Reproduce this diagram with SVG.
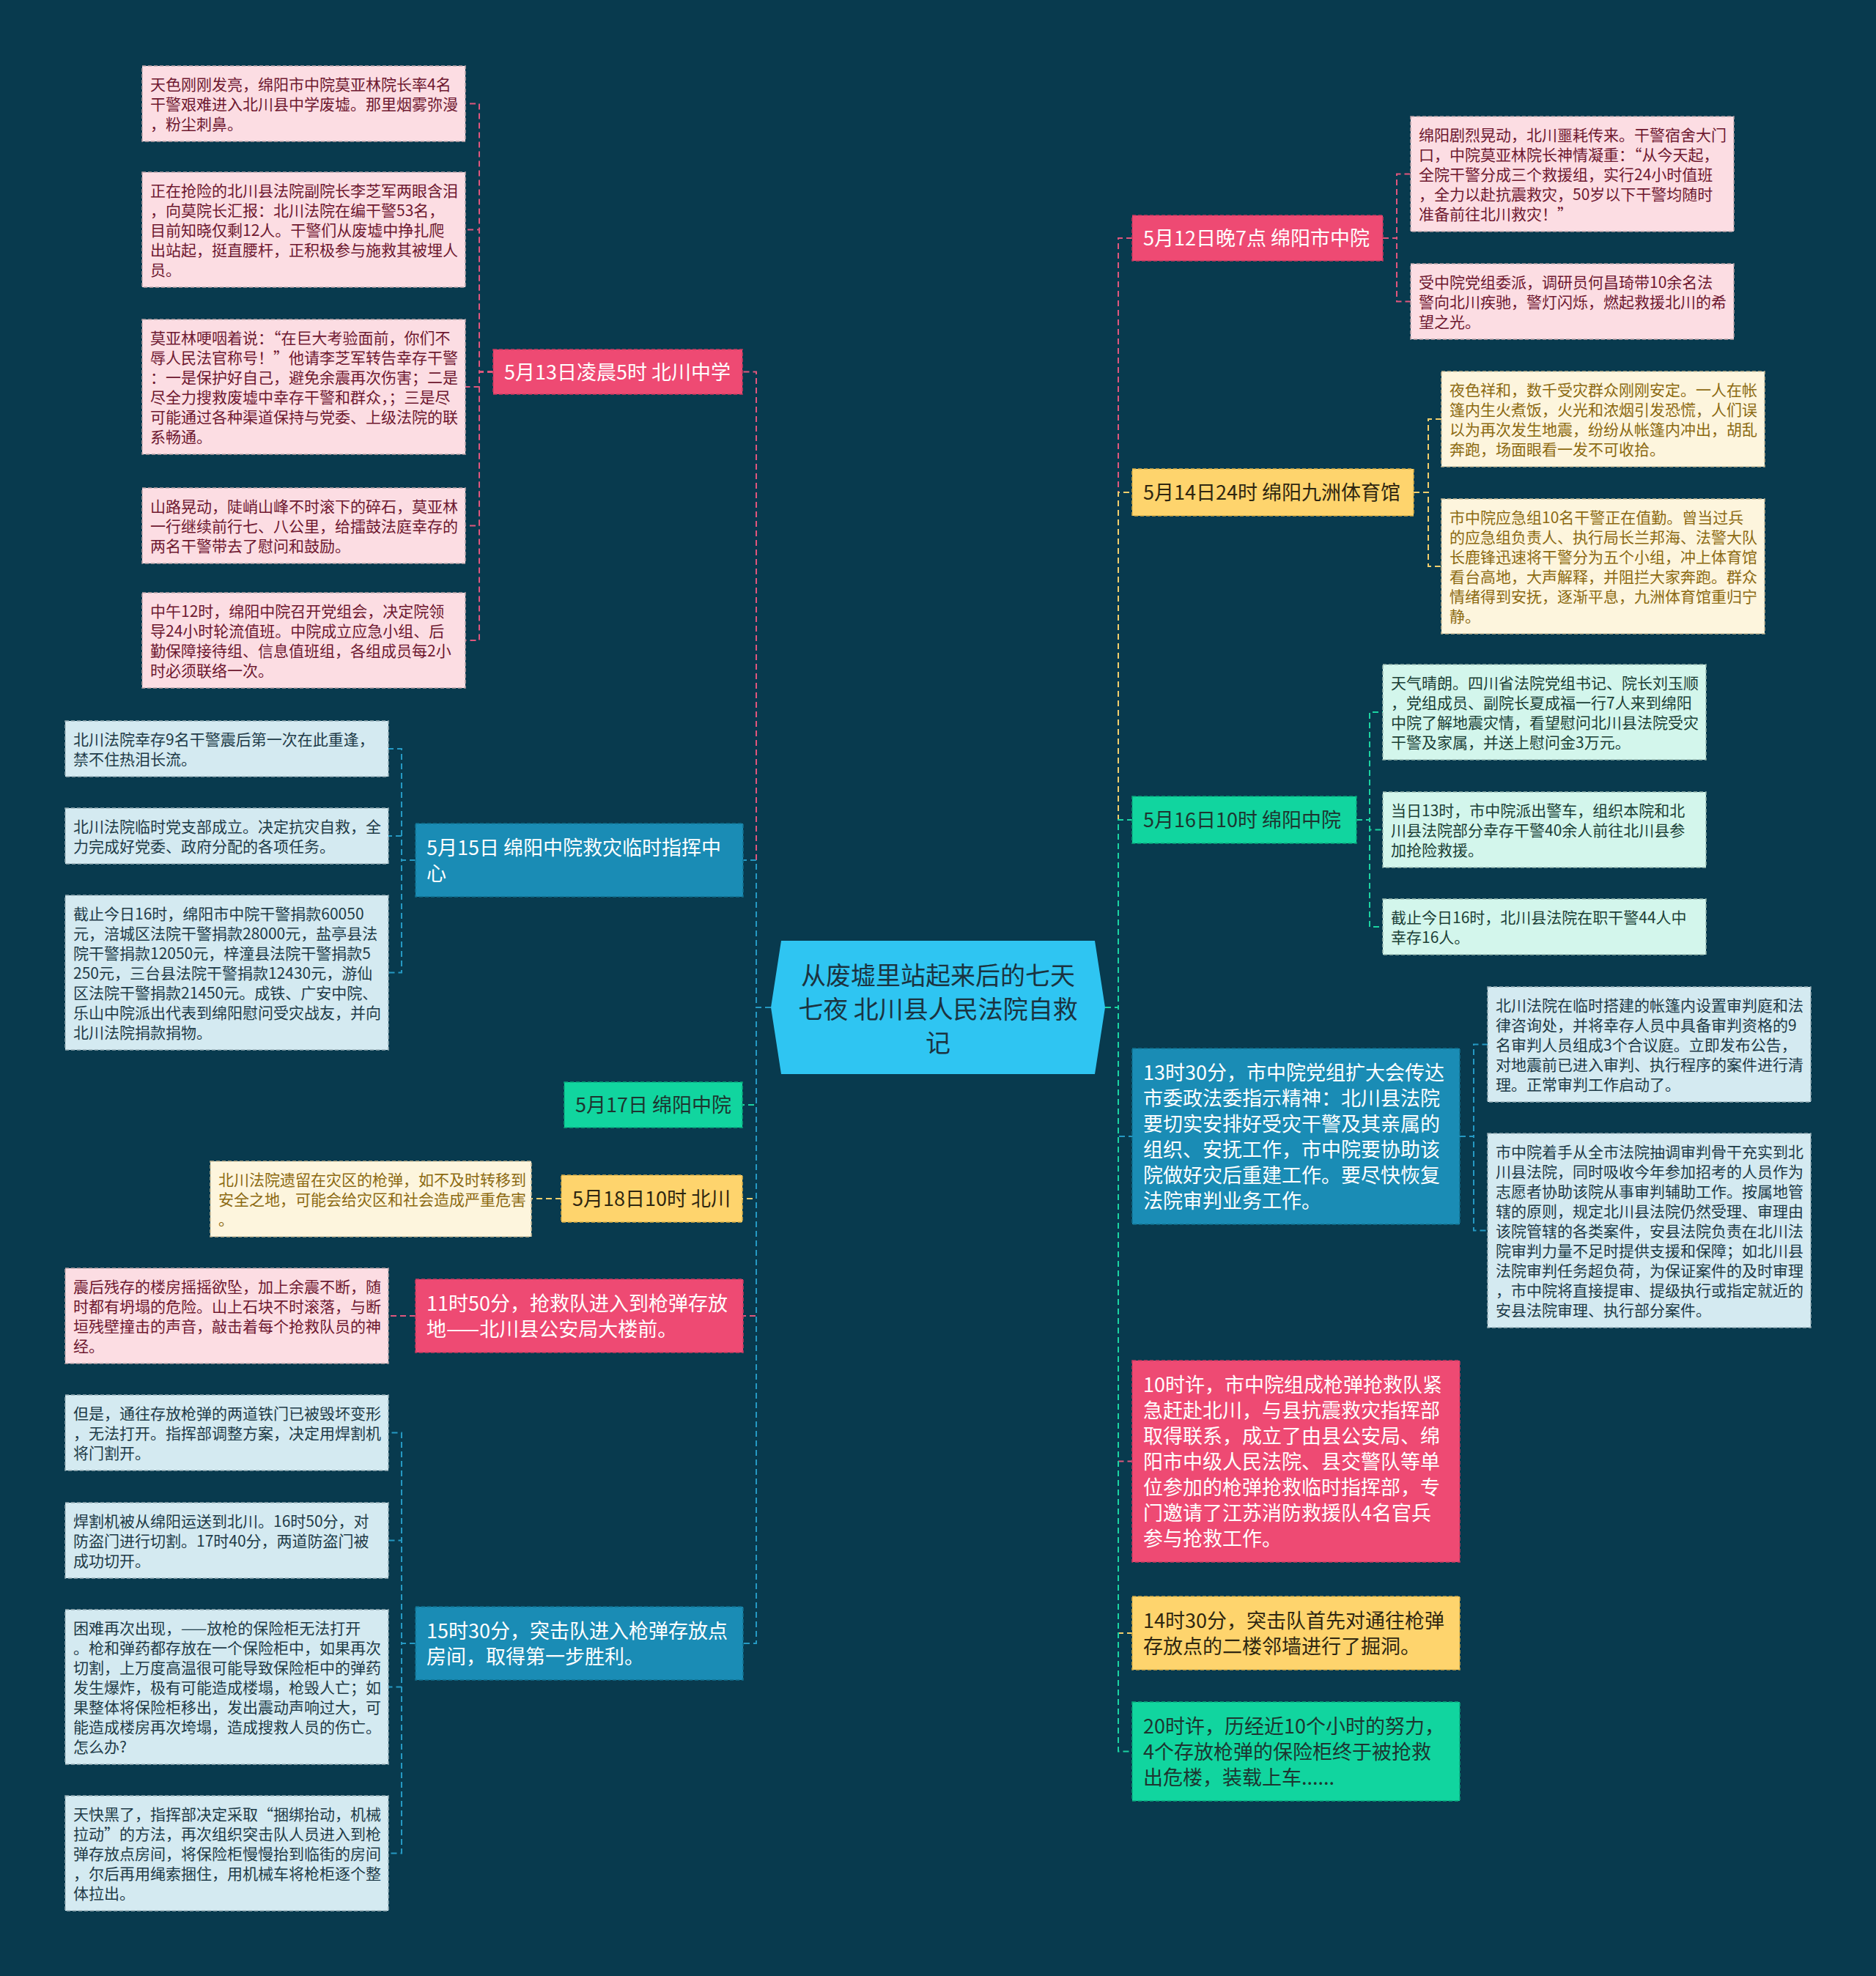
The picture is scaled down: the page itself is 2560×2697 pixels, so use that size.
<svg xmlns="http://www.w3.org/2000/svg" width="2560" height="2697" viewBox="0 0 2560 2697">
<style>
text{font-family:"Noto Sans CJK SC","Noto Sans",sans-serif}
.lf{font-size:21px}
.br{font-size:27px}
.ct{font-size:34px;fill:#1b3340;text-anchor:middle}
.box{stroke-width:1.5;stroke-dasharray:5 3}
.bp{fill:#ee4a73;stroke:#c93a60}
.bb{fill:#1a8cb5;stroke:#10708f}
.bg{fill:#11d59f;stroke:#0aa87c}
.by{fill:#fed46d;stroke:#d8ad45}
.lp{fill:#fcdde3;stroke:#b9a2a8}
.lb{fill:#d4eaf1;stroke:#98afb6}
.ly{fill:#fdf5dd;stroke:#c8bb96}
.lg{fill:#d3f6ec;stroke:#98b8ae}
.tw{fill:#ffffff}
.td{fill:#1d3530}
.tyd{fill:#2e2610}
.tp{fill:#6e1830}
.tb{fill:#1e3b48}
.ty{fill:#8c6a12}
.tg{fill:#1b3f36}
.c{fill:none;stroke-width:2;stroke-dasharray:8 5}
.cp{stroke:#e0567d}
.cb{stroke:#2599c3}
.cg{stroke:#1bd4a2}
.cy{stroke:#f3cf6c}
</style>
<rect width="2560" height="2697" fill="#083a4e"/>

<g id="connectors">
  <path class="c cp" d="M1052 1375H1032V507.5H1013"/>
  <path class="c cb" d="M1052 1375H1032V1174H1014"/>
  <path class="c cg" d="M1052 1375H1032V1508H1013"/>
  <path class="c cy" d="M1052 1375H1032V1636H1013"/>
  <path class="c cp" d="M1052 1375H1032V1796H1014"/>
  <path class="c cb" d="M1052 1375H1032V2243H1014"/>
  <path class="c cp" d="M1508 1375H1526V325H1545"/>
  <path class="c cy" d="M1508 1375H1526V672H1545"/>
  <path class="c cg" d="M1508 1375H1526V1119H1545"/>
  <path class="c cb" d="M1508 1375H1526V1551H1545"/>
  <path class="c cp" d="M1508 1375H1526V1994.5H1545"/>
  <path class="c cy" d="M1508 1375H1526V2229H1545"/>
  <path class="c cg" d="M1508 1375H1526V2390.5H1545"/>
  <path class="c cp" d="M673 507.5H654V141.5H635"/>
  <path class="c cp" d="M673 507.5H654V313.5H635"/>
  <path class="c cp" d="M673 507.5H654V528H635"/>
  <path class="c cp" d="M673 507.5H654V717.5H635"/>
  <path class="c cp" d="M673 507.5H654V874H635"/>
  <path class="c cb" d="M567 1174H548V1022H530"/>
  <path class="c cb" d="M567 1174H548V1141H530"/>
  <path class="c cb" d="M567 1174H548V1327.5H530"/>
  <path class="c cy" d="M766 1636H725"/>
  <path class="c cp" d="M567 1796H530"/>
  <path class="c cb" d="M567 2243H548V1955.5H530"/>
  <path class="c cb" d="M567 2243H548V2102.5H530"/>
  <path class="c cb" d="M567 2243H548V2302.5H530"/>
  <path class="c cb" d="M567 2243H548V2529.5H530"/>
  <path class="c cp" d="M1887 325H1906V237.5H1925"/>
  <path class="c cp" d="M1887 325H1906V411.5H1925"/>
  <path class="c cy" d="M1929 672H1949V572H1967"/>
  <path class="c cy" d="M1929 672H1949V773H1967"/>
  <path class="c cg" d="M1851 1119H1869V972H1887"/>
  <path class="c cg" d="M1851 1119H1869V1132.5H1887"/>
  <path class="c cg" d="M1851 1119H1869V1265H1887"/>
  <path class="c cb" d="M1992 1551H2011V1425.5H2030"/>
  <path class="c cb" d="M1992 1551H2011V1679.5H2030"/>
</g>

<g id="center">
  <polygon points="1066,1284 1494,1284 1508,1375 1494,1466 1066,1466 1052,1375" fill="#2fc5f2"/>
  <text class="ct"><tspan x="1280" y="1344">从废墟里站起来后的七天</tspan><tspan x="1280" y="1390">七夜 北川县人民法院自救</tspan><tspan x="1280" y="1436">记</tspan></text>
</g>

<g id="b-0513">
  <rect class="box bp" x="673" y="477" width="340" height="61"/>
  <text class="br tw" x="688" y="517.5">5月13日凌晨5时 北川中学</text>
</g>
<g id="l-0513-a">
  <rect class="box lp" x="194" y="90" width="441" height="103"/>
  <text class="lf tp"><tspan x="205" y="123">天色刚刚发亮，绵阳市中院莫亚林院长率4名</tspan><tspan x="205" y="150">干警艰难进入北川县中学废墟。那里烟雾弥漫</tspan><tspan x="205" y="177">，粉尘刺鼻。</tspan></text>
</g>
<g id="l-0513-b">
  <rect class="box lp" x="194" y="235" width="441" height="157"/>
  <text class="lf tp"><tspan x="205" y="268">正在抢险的北川县法院副院长李芝军两眼含泪</tspan><tspan x="205" y="295">，向莫院长汇报：北川法院在编干警53名，</tspan><tspan x="205" y="322">目前知晓仅剩12人。干警们从废墟中挣扎爬</tspan><tspan x="205" y="349">出站起，挺直腰杆，正积极参与施救其被埋人</tspan><tspan x="205" y="376">员。</tspan></text>
</g>
<g id="l-0513-c">
  <rect class="box lp" x="194" y="436" width="441" height="184"/>
  <text class="lf tp"><tspan x="205" y="469">莫亚林哽咽着说：“在巨大考验面前，你们不</tspan><tspan x="205" y="496">辱人民法官称号！”他请李芝军转告幸存干警</tspan><tspan x="205" y="523">：一是保护好自己，避免余震再次伤害；二是</tspan><tspan x="205" y="550">尽全力搜救废墟中幸存干警和群众，；三是尽</tspan><tspan x="205" y="577">可能通过各种渠道保持与党委、上级法院的联</tspan><tspan x="205" y="604">系畅通。</tspan></text>
</g>
<g id="l-0513-d">
  <rect class="box lp" x="194" y="666" width="441" height="103"/>
  <text class="lf tp"><tspan x="205" y="699">山路晃动，陡峭山峰不时滚下的碎石，莫亚林</tspan><tspan x="205" y="726">一行继续前行七、八公里，给擂鼓法庭幸存的</tspan><tspan x="205" y="753">两名干警带去了慰问和鼓励。</tspan></text>
</g>
<g id="l-0513-e">
  <rect class="box lp" x="194" y="809" width="441" height="130"/>
  <text class="lf tp"><tspan x="205" y="842">中午12时，绵阳中院召开党组会，决定院领</tspan><tspan x="205" y="869">导24小时轮流值班。中院成立应急小组、后</tspan><tspan x="205" y="896">勤保障接待组、信息值班组，各组成员每2小</tspan><tspan x="205" y="923">时必须联络一次。</tspan></text>
</g>

<g id="b-0515">
  <rect class="box bb" x="567" y="1124" width="447" height="100"/>
  <text class="br tw"><tspan x="582" y="1166.5">5月15日 绵阳中院救灾临时指挥中</tspan><tspan x="582" y="1201.5">心</tspan></text>
</g>
<g id="l-0515-a">
  <rect class="box lb" x="89" y="984" width="441" height="76"/>
  <text class="lf tb"><tspan x="100" y="1017">北川法院幸存9名干警震后第一次在此重逢，</tspan><tspan x="100" y="1044">禁不住热泪长流。</tspan></text>
</g>
<g id="l-0515-b">
  <rect class="box lb" x="89" y="1103" width="441" height="76"/>
  <text class="lf tb"><tspan x="100" y="1136">北川法院临时党支部成立。决定抗灾自救，全</tspan><tspan x="100" y="1163">力完成好党委、政府分配的各项任务。</tspan></text>
</g>
<g id="l-0515-c">
  <rect class="box lb" x="89" y="1222" width="441" height="211"/>
  <text class="lf tb"><tspan x="100" y="1255">截止今日16时，绵阳市中院干警捐款60050</tspan><tspan x="100" y="1282">元，涪城区法院干警捐款28000元，盐亭县法</tspan><tspan x="100" y="1309">院干警捐款12050元，梓潼县法院干警捐款5</tspan><tspan x="100" y="1336">250元，三台县法院干警捐款12430元，游仙</tspan><tspan x="100" y="1363">区法院干警捐款21450元。成铁、广安中院、</tspan><tspan x="100" y="1390">乐山中院派出代表到绵阳慰问受灾战友，并向</tspan><tspan x="100" y="1417">北川法院捐款捐物。</tspan></text>
</g>

<g id="b-0517">
  <rect class="box bg" x="770" y="1477" width="243" height="62"/>
  <text class="br td" x="785" y="1518">5月17日 绵阳中院</text>
</g>

<g id="b-0518">
  <rect class="box by" x="766" y="1604" width="247" height="64"/>
  <text class="br tyd" x="781" y="1646">5月18日10时 北川</text>
</g>
<g id="l-0518-a">
  <rect class="box ly" x="287" y="1585" width="438" height="103"/>
  <text class="lf ty"><tspan x="298" y="1618">北川法院遗留在灾区的枪弹，如不及时转移到</tspan><tspan x="298" y="1645">安全之地，可能会给灾区和社会造成严重危害</tspan><tspan x="298" y="1672">。</tspan></text>
</g>

<g id="b-1150">
  <rect class="box bp" x="567" y="1746" width="447" height="100"/>
  <text class="br tw"><tspan x="582" y="1788.5">11时50分，抢救队进入到枪弹存放</tspan><tspan x="582" y="1823.5">地——北川县公安局大楼前。</tspan></text>
</g>
<g id="l-1150-a">
  <rect class="box lp" x="89" y="1731" width="441" height="130"/>
  <text class="lf tp"><tspan x="100" y="1764">震后残存的楼房摇摇欲坠，加上余震不断，随</tspan><tspan x="100" y="1791">时都有坍塌的危险。山上石块不时滚落，与断</tspan><tspan x="100" y="1818">垣残壁撞击的声音，敲击着每个抢救队员的神</tspan><tspan x="100" y="1845">经。</tspan></text>
</g>

<g id="b-1530">
  <rect class="box bb" x="567" y="2193" width="447" height="100"/>
  <text class="br tw"><tspan x="582" y="2235.5">15时30分，突击队进入枪弹存放点</tspan><tspan x="582" y="2270.5">房间，取得第一步胜利。</tspan></text>
</g>
<g id="l-1530-a">
  <rect class="box lb" x="89" y="1904" width="441" height="103"/>
  <text class="lf tb"><tspan x="100" y="1937">但是，通往存放枪弹的两道铁门已被毁坏变形</tspan><tspan x="100" y="1964">，无法打开。指挥部调整方案，决定用焊割机</tspan><tspan x="100" y="1991">将门割开。</tspan></text>
</g>
<g id="l-1530-b">
  <rect class="box lb" x="89" y="2051" width="441" height="103"/>
  <text class="lf tb"><tspan x="100" y="2084">焊割机被从绵阳运送到北川。16时50分，对</tspan><tspan x="100" y="2111">防盗门进行切割。17时40分，两道防盗门被</tspan><tspan x="100" y="2138">成功切开。</tspan></text>
</g>
<g id="l-1530-c">
  <rect class="box lb" x="89" y="2197" width="441" height="211"/>
  <text class="lf tb"><tspan x="100" y="2230">困难再次出现，——放枪的保险柜无法打开</tspan><tspan x="100" y="2257">。枪和弹药都存放在一个保险柜中，如果再次</tspan><tspan x="100" y="2284">切割，上万度高温很可能导致保险柜中的弹药</tspan><tspan x="100" y="2311">发生爆炸，极有可能造成楼塌，枪毁人亡；如</tspan><tspan x="100" y="2338">果整体将保险柜移出，发出震动声响过大，可</tspan><tspan x="100" y="2365">能造成楼房再次垮塌，造成搜救人员的伤亡。</tspan><tspan x="100" y="2392">怎么办?</tspan></text>
</g>
<g id="l-1530-d">
  <rect class="box lb" x="89" y="2451" width="441" height="157"/>
  <text class="lf tb"><tspan x="100" y="2484">天快黑了，指挥部决定采取“捆绑抬动，机械</tspan><tspan x="100" y="2511">拉动”的方法，再次组织突击队人员进入到枪</tspan><tspan x="100" y="2538">弹存放点房间，将保险柜慢慢抬到临街的房间</tspan><tspan x="100" y="2565">，尔后再用绳索捆住，用机械车将枪柜逐个整</tspan><tspan x="100" y="2592">体拉出。</tspan></text>
</g>

<g id="b-0512">
  <rect class="box bp" x="1545" y="294" width="342" height="62"/>
  <text class="br tw" x="1560" y="335">5月12日晚7点 绵阳市中院</text>
</g>
<g id="l-0512-a">
  <rect class="box lp" x="1925" y="159" width="441" height="157"/>
  <text class="lf tp"><tspan x="1936" y="192">绵阳剧烈晃动，北川噩耗传来。干警宿舍大门</tspan><tspan x="1936" y="219">口，中院莫亚林院长神情凝重：“从今天起，</tspan><tspan x="1936" y="246">全院干警分成三个救援组，实行24小时值班</tspan><tspan x="1936" y="273">，全力以赴抗震救灾，50岁以下干警均随时</tspan><tspan x="1936" y="300">准备前往北川救灾！”</tspan></text>
</g>
<g id="l-0512-b">
  <rect class="box lp" x="1925" y="360" width="441" height="103"/>
  <text class="lf tp"><tspan x="1936" y="393">受中院党组委派，调研员何昌琦带10余名法</tspan><tspan x="1936" y="420">警向北川疾驰，警灯闪烁，燃起救援北川的希</tspan><tspan x="1936" y="447">望之光。</tspan></text>
</g>

<g id="b-0514">
  <rect class="box by" x="1545" y="640" width="384" height="64"/>
  <text class="br tyd" x="1560" y="682">5月14日24时 绵阳九洲体育馆</text>
</g>
<g id="l-0514-a">
  <rect class="box ly" x="1967" y="507" width="441" height="130"/>
  <text class="lf ty"><tspan x="1978" y="540">夜色祥和，数千受灾群众刚刚安定。一人在帐</tspan><tspan x="1978" y="567">篷内生火煮饭，火光和浓烟引发恐慌，人们误</tspan><tspan x="1978" y="594">以为再次发生地震，纷纷从帐篷内冲出，胡乱</tspan><tspan x="1978" y="621">奔跑，场面眼看一发不可收拾。</tspan></text>
</g>
<g id="l-0514-b">
  <rect class="box ly" x="1967" y="681" width="441" height="184"/>
  <text class="lf ty"><tspan x="1978" y="714">市中院应急组10名干警正在值勤。曾当过兵</tspan><tspan x="1978" y="741">的应急组负责人、执行局长兰邦海、法警大队</tspan><tspan x="1978" y="768">长鹿锋迅速将干警分为五个小组，冲上体育馆</tspan><tspan x="1978" y="795">看台高地，大声解释，并阻拦大家奔跑。群众</tspan><tspan x="1978" y="822">情绪得到安抚，逐渐平息，九洲体育馆重归宁</tspan><tspan x="1978" y="849">静。</tspan></text>
</g>

<g id="b-0516">
  <rect class="box bg" x="1545" y="1087" width="306" height="64"/>
  <text class="br td" x="1560" y="1129">5月16日10时 绵阳中院</text>
</g>
<g id="l-0516-a">
  <rect class="box lg" x="1887" y="907" width="441" height="130"/>
  <text class="lf tg"><tspan x="1898" y="940">天气晴朗。四川省法院党组书记、院长刘玉顺</tspan><tspan x="1898" y="967">，党组成员、副院长夏成福一行7人来到绵阳</tspan><tspan x="1898" y="994">中院了解地震灾情，看望慰问北川县法院受灾</tspan><tspan x="1898" y="1021">干警及家属，并送上慰问金3万元。</tspan></text>
</g>
<g id="l-0516-b">
  <rect class="box lg" x="1887" y="1081" width="441" height="103"/>
  <text class="lf tg"><tspan x="1898" y="1114">当日13时，市中院派出警车，组织本院和北</tspan><tspan x="1898" y="1141">川县法院部分幸存干警40余人前往北川县参</tspan><tspan x="1898" y="1168">加抢险救援。</tspan></text>
</g>
<g id="l-0516-c">
  <rect class="box lg" x="1887" y="1227" width="441" height="76"/>
  <text class="lf tg"><tspan x="1898" y="1260">截止今日16时，北川县法院在职干警44人中</tspan><tspan x="1898" y="1287">幸存16人。</tspan></text>
</g>

<g id="b-1330">
  <rect class="box bb" x="1545" y="1431" width="447" height="240"/>
  <text class="br tw"><tspan x="1560" y="1473.5">13时30分，市中院党组扩大会传达</tspan><tspan x="1560" y="1508.5">市委政法委指示精神：北川县法院</tspan><tspan x="1560" y="1543.5">要切实安排好受灾干警及其亲属的</tspan><tspan x="1560" y="1578.5">组织、安抚工作，市中院要协助该</tspan><tspan x="1560" y="1613.5">院做好灾后重建工作。要尽快恢复</tspan><tspan x="1560" y="1648.5">法院审判业务工作。</tspan></text>
</g>
<g id="l-1330-a">
  <rect class="box lb" x="2030" y="1347" width="441" height="157"/>
  <text class="lf tb"><tspan x="2041" y="1380">北川法院在临时搭建的帐篷内设置审判庭和法</tspan><tspan x="2041" y="1407">律咨询处，并将幸存人员中具备审判资格的9</tspan><tspan x="2041" y="1434">名审判人员组成3个合议庭。立即发布公告，</tspan><tspan x="2041" y="1461">对地震前已进入审判、执行程序的案件进行清</tspan><tspan x="2041" y="1488">理。正常审判工作启动了。</tspan></text>
</g>
<g id="l-1330-b">
  <rect class="box lb" x="2030" y="1547" width="441" height="265"/>
  <text class="lf tb"><tspan x="2041" y="1580">市中院着手从全市法院抽调审判骨干充实到北</tspan><tspan x="2041" y="1607">川县法院，同时吸收今年参加招考的人员作为</tspan><tspan x="2041" y="1634">志愿者协助该院从事审判辅助工作。按属地管</tspan><tspan x="2041" y="1661">辖的原则，规定北川县法院仍然受理、审理由</tspan><tspan x="2041" y="1688">该院管辖的各类案件，安县法院负责在北川法</tspan><tspan x="2041" y="1715">院审判力量不足时提供支援和保障；如北川县</tspan><tspan x="2041" y="1742">法院审判任务超负荷，为保证案件的及时审理</tspan><tspan x="2041" y="1769">，市中院将直接提审、提级执行或指定就近的</tspan><tspan x="2041" y="1796">安县法院审理、执行部分案件。</tspan></text>
</g>

<g id="b-10xu">
  <rect class="box bp" x="1545" y="1857" width="447" height="275"/>
  <text class="br tw"><tspan x="1560" y="1899.5">10时许，市中院组成枪弹抢救队紧</tspan><tspan x="1560" y="1934.5">急赶赴北川，与县抗震救灾指挥部</tspan><tspan x="1560" y="1969.5">取得联系，成立了由县公安局、绵</tspan><tspan x="1560" y="2004.5">阳市中级人民法院、县交警队等单</tspan><tspan x="1560" y="2039.5">位参加的枪弹抢救临时指挥部，专</tspan><tspan x="1560" y="2074.5">门邀请了江苏消防救援队4名官兵</tspan><tspan x="1560" y="2109.5">参与抢救工作。</tspan></text>
</g>
<g id="b-1430">
  <rect class="box by" x="1545" y="2179" width="447" height="100"/>
  <text class="br tyd"><tspan x="1560" y="2221.5">14时30分，突击队首先对通往枪弹</tspan><tspan x="1560" y="2256.5">存放点的二楼邻墙进行了掘洞。</tspan></text>
</g>
<g id="b-20xu">
  <rect class="box bg" x="1545" y="2323" width="447" height="135"/>
  <text class="br td"><tspan x="1560" y="2365.5">20时许，历经近10个小时的努力，</tspan><tspan x="1560" y="2400.5">4个存放枪弹的保险柜终于被抢救</tspan><tspan x="1560" y="2435.5">出危楼，装载上车......</tspan></text>
</g>
</svg>
